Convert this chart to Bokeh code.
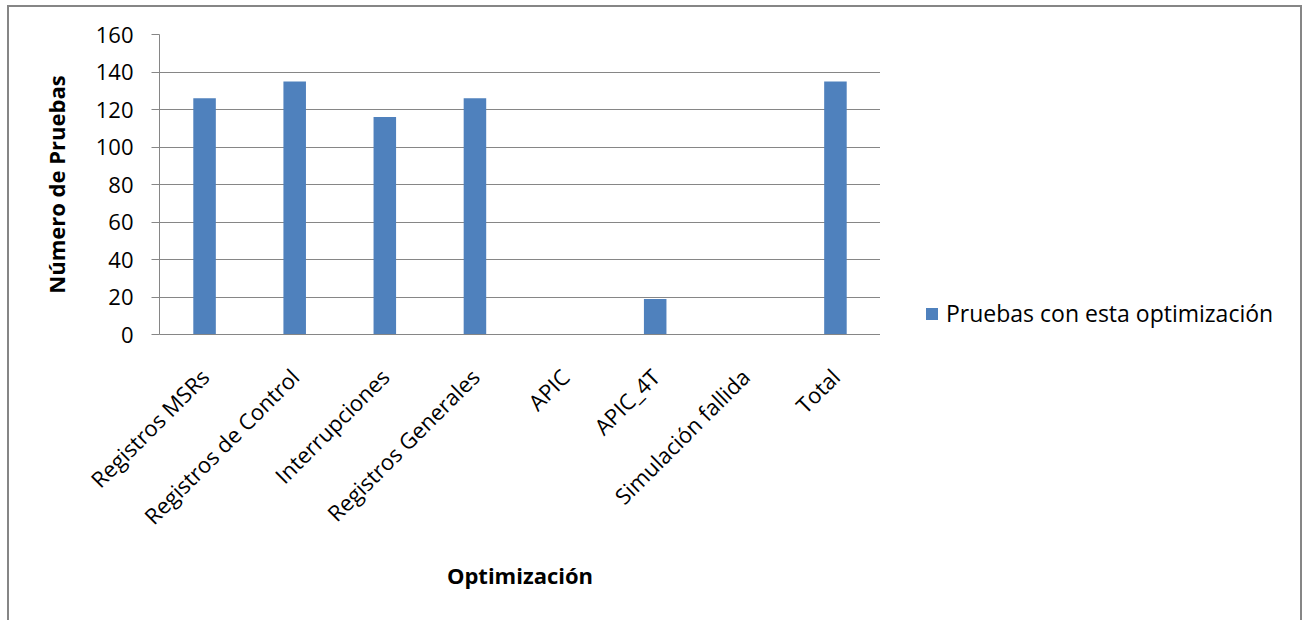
import math
from bokeh.plotting import figure
from bokeh.layouts import row
from bokeh.models import (Legend, LegendItem, FactorRange, Range1d, ColumnDataSource,
                          FixedTicker)
from bokeh.embed import file_html
from bokeh.resources import INLINE

categories = ["Registros MSRs", "Registros de Control", "Interrupciones",
              "Registros Generales", "APIC", "APIC_4T", "Simulación fallida", "Total"]
values = [126, 135, 116, 126, 0, 19, 0, 135]
series_name = "Pruebas con esta optimización"
y_ticks = [0, 20, 40, 60, 80, 100, 120, 140, 160]
x_title = "Optimización"
y_title = "Número de Pruebas"

BAR = "#4F81BD"
GRID = "#868686"
FONT = "Open Sans"
FS = "22px"

src = ColumnDataSource(dict(cat=categories, val=values))

p = figure(x_range=FactorRange(*categories), y_range=Range1d(0, 160),
           width=871, height=620, output_backend="svg", toolbar_location=None,
           min_border_left=150, min_border_top=27, min_border_right=0,
           min_border_bottom=293)
p.outline_line_color = None
p.background_fill_color = "white"
p.border_fill_color = "white"

r = p.vbar(x="cat", top="val", width=0.25, source=src, fill_color=BAR,
           line_color=None)

p.xgrid.grid_line_color = None
p.ygrid.grid_line_color = GRID
p.ygrid.grid_line_width = 1
p.yaxis.ticker = FixedTicker(ticks=y_ticks)

p.yaxis.axis_line_color = GRID
p.yaxis.major_tick_line_color = GRID
p.yaxis.major_tick_out = 8
p.yaxis.major_tick_in = 0
p.yaxis.minor_tick_line_color = None
p.yaxis.major_label_standoff = 18
p.yaxis.major_label_text_font = FONT
p.yaxis.major_label_text_font_size = FS
p.yaxis.major_label_text_color = "black"
p.yaxis.axis_label = y_title
p.yaxis.axis_label_text_font = FONT
p.yaxis.axis_label_text_font_style = "bold"
p.yaxis.axis_label_text_font_size = FS
p.yaxis.axis_label_text_color = "black"
p.yaxis.axis_label_standoff = 22

p.xaxis.axis_line_color = GRID
p.xaxis.major_tick_line_color = None
p.xaxis.major_tick_out = 0
p.xaxis.major_tick_in = 0
p.xaxis.minor_tick_line_color = None
p.xaxis.major_label_orientation = math.pi / 4
p.xaxis.major_label_standoff = 38
p.xaxis.major_label_text_font = FONT
p.xaxis.major_label_text_font_size = FS
p.xaxis.major_label_text_color = "black"
p.xaxis.axis_label = x_title
p.xaxis.axis_label_text_font = FONT
p.xaxis.axis_label_text_font_style = "bold"
p.xaxis.axis_label_text_font_size = FS
p.xaxis.axis_label_text_color = "black"
p.xaxis.axis_label_standoff = 16

# legend panel (separate figure to the right of the chart)
q = figure(width=420, height=620, x_range=FactorRange(*categories),
           y_range=Range1d(0, 160), output_backend="svg", toolbar_location=None,
           min_border=0, min_border_left=0, min_border_right=0,
           min_border_top=0, min_border_bottom=0)
q.axis.visible = False
q.grid.visible = False
q.outline_line_color = None
q.background_fill_color = "white"
q.border_fill_color = "white"
rq = q.vbar(x="cat", top="val", width=0.25, source=src, fill_color=BAR,
            line_color=None, visible=False)

legend = Legend(items=[LegendItem(label=series_name, renderers=[rq])],
                location=(44, 5))
legend.label_text_font = FONT
legend.label_text_font_size = "23px"
legend.label_text_color = "black"
legend.glyph_width = 15
legend.glyph_height = 15
legend.label_standoff = 7
legend.padding = 0
legend.margin = 0
legend.border_line_color = None
legend.background_fill_alpha = 0
legend.inactive_fill_alpha = 0
q.add_layout(legend, "center")

layout = row(p, q, margin=(5, 0, 0, 7), spacing=0)
layout.styles = {"border": "2px solid #868686", "background-color": "white"}

open("out.html", "w").write(file_html(layout, INLINE))
